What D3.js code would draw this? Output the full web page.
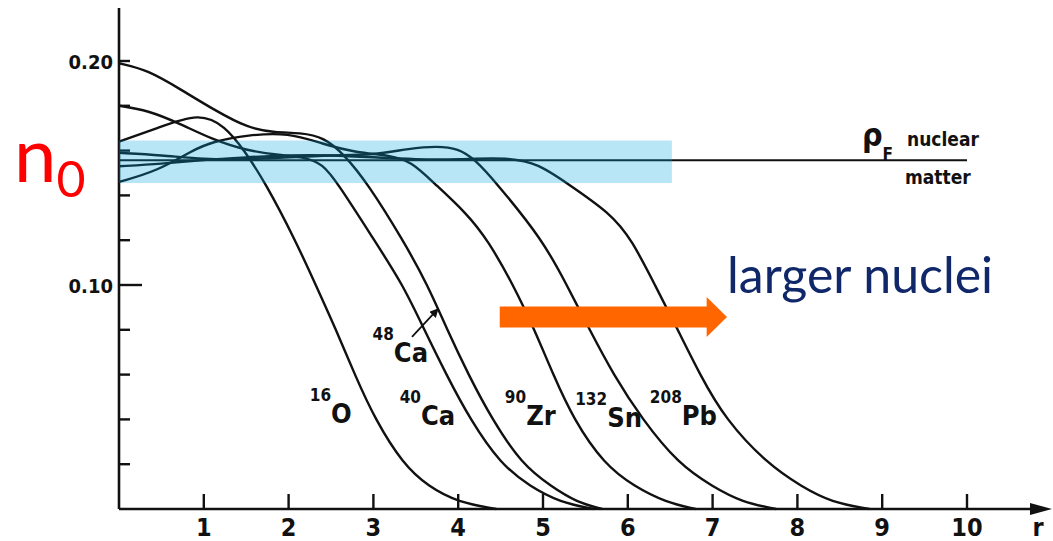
<!DOCTYPE html>
<html>
<head>
<meta charset="utf-8">
<script src="https://cdn.jsdelivr.net/npm/d3@7"></script>
<style>
body { margin: 0; background: #fff; }
svg { display: block; }
.scan { font-family: "DejaVu Sans Condensed", "DejaVu Sans", sans-serif; font-weight: bold; fill: #111; }
.slide { font-family: Lato, "Open Sans", sans-serif; }
</style>
</head>
<body>
<svg width="1053" height="541"></svg>
<script>
// tick values
var rTicks = [1, 2, 3, 4, 5, 6, 7, 8, 9, 10];
var rhoTicks = [0.02, 0.04, 0.06, 0.08, 0.10, 0.12, 0.14, 0.16, 0.18, 0.20];
var rhoLabels = [0.10, 0.20];

// nuclear matter density and highlighted band
var nuclearMatter = 0.1557;
var bandRho = [0.1455, 0.1645];
var bandR = [0, 6.52];

// density profiles rho(r)
var o16 = [[0,0.164],[0.45,0.170],[0.95,0.177],[1.25,0.171],[1.48,0.160],[1.72,0.146],[2.08,0.12],[2.32,0.10],[2.56,0.08],[2.78,0.06],[3.02,0.04],[3.35,0.02],[3.65,0.01],[4.0,0.003],[4.45,0]];
var ca40 = [[0,0.180],[0.34,0.178],[0.72,0.172],[1.1,0.165],[1.5,0.160],[1.9,0.158],[2.2,0.157],[2.4,0.154],[2.57,0.146],[3.01,0.12],[3.35,0.10],[3.60,0.08],[3.86,0.06],[4.14,0.04],[4.5,0.02],[4.85,0.01],[5.2,0.003],[5.6,0]];
var ca48 = [[0,0.199],[0.34,0.196],[0.74,0.187],[1.13,0.178],[1.52,0.170],[1.85,0.168],[2.13,0.168],[2.42,0.166],[2.66,0.158],[2.92,0.146],[3.35,0.12],[3.64,0.10],[3.87,0.08],[4.12,0.06],[4.40,0.04],[4.75,0.02],[5.1,0.01],[5.4,0.003],[5.7,0]];
var zr90 = [[0,0.146],[0.46,0.151],[0.86,0.160],[1.1,0.164],[1.52,0.167],[2.0,0.168],[2.4,0.163],[2.8,0.159],[3.2,0.158],[3.45,0.155],[3.7,0.146],[4.1,0.132],[4.35,0.12],[4.65,0.10],[4.90,0.08],[5.12,0.06],[5.36,0.04],[5.72,0.02],[6.08,0.01],[6.45,0.003],[6.8,0]];
var sn132 = [[0,0.159],[0.5,0.158],[1.0,0.156],[1.5,0.156],[2.0,0.157],[2.5,0.158],[3.0,0.158],[3.43,0.161],[3.75,0.162],[4.0,0.161],[4.2,0.156],[4.44,0.146],[5.0,0.12],[5.28,0.10],[5.55,0.08],[5.83,0.06],[6.17,0.04],[6.6,0.02],[7.0,0.01],[7.35,0.003],[7.75,0]];
var pb208 = [[0,0.153],[0.5,0.154],[1.0,0.156],[1.5,0.157],[2.0,0.158],[2.5,0.158],[3.0,0.157],[3.5,0.156],[4.0,0.156],[4.6,0.157],[4.95,0.154],[5.26,0.146],[5.8,0.132],[6.05,0.12],[6.32,0.10],[6.59,0.08],[6.85,0.06],[7.15,0.04],[7.65,0.02],[8.05,0.01],[8.4,0.003],[8.85,0]];

var nuclei = [
    {mass: "16", sym: "O", pts: o16},
    {mass: "40", sym: "Ca", pts: ca40},
    {mass: "48", sym: "Ca", pts: ca48},
    {mass: "90", sym: "Zr", pts: zr90},
    {mass: "132", sym: "Sn", pts: sn132},
    {mass: "208", sym: "Pb", pts: pb208}
];

// where the labels sit (r, rho of the symbol baseline start)
var labelAt = [[2.25, 0.0384], [3.31, 0.0375], [2.99, 0.0656], [4.55, 0.0375], [5.38, 0.0366], [6.26, 0.0375]];

var svg = d3.select("svg"),
    x = d3.scaleLinear().domain([0, 10]).range([119, 967]),
    y = d3.scaleLinear().domain([0, 0.2]).range([509, 61]);

var line = d3.line()
    .x(function (d) { return x(d[0]); })
    .y(function (d) { return y(d[1]); })
    .curve(d3.curveBasis);

// curves
svg.append("g").selectAll("path")
    .data(nuclei)
    .enter().append("path")
    .attr("d", function (d) { return line(d.pts); })
    .attr("fill", "none")
    .attr("stroke", "#111")
    .attr("stroke-width", 2.4);

// nuclear matter line
svg.append("line")
    .attr("x1", x(0)).attr("x2", x(10))
    .attr("y1", y(nuclearMatter)).attr("y2", y(nuclearMatter))
    .attr("stroke", "#111").attr("stroke-width", 2.2);

// axes
svg.append("line")
    .attr("x1", x(0)).attr("x2", x(0))
    .attr("y1", 8).attr("y2", y(0))
    .attr("stroke", "#111").attr("stroke-width", 2.6);
svg.append("line")
    .attr("x1", x(0)).attr("x2", 1032)
    .attr("y1", y(0)).attr("y2", y(0))
    .attr("stroke", "#111").attr("stroke-width", 2.6);
svg.append("path")
    .attr("d", "M1052," + y(0) + "L1030," + (y(0) - 6) + "L1030," + (y(0) + 6) + "Z")
    .attr("fill", "#111");

svg.append("g").selectAll("line")
    .data(rTicks)
    .enter().append("line")
    .attr("x1", function (d) { return x(d); })
    .attr("x2", function (d) { return x(d); })
    .attr("y1", y(0)).attr("y2", y(0) - 15)
    .attr("stroke", "#111").attr("stroke-width", 2.4);

svg.append("g").selectAll("text")
    .data(rTicks)
    .enter().append("text")
    .attr("class", "scan")
    .attr("x", function (d) { return x(d); })
    .attr("y", 536)
    .attr("text-anchor", "middle")
    .attr("font-size", 25)
    .text(function (d) { return d; });

svg.append("text")
    .attr("class", "scan")
    .attr("x", 1038).attr("y", 536)
    .attr("text-anchor", "middle")
    .attr("font-size", 25)
    .text("r");

svg.append("g").selectAll("line")
    .data(rhoTicks)
    .enter().append("line")
    .attr("x1", x(0))
    .attr("x2", function (d) { return x(0) + (Math.abs(d - 0.1) < 1e-6 ? 23 : 11); })
    .attr("y1", function (d) { return y(d); })
    .attr("y2", function (d) { return y(d); })
    .attr("stroke", "#111").attr("stroke-width", 2.4);

svg.append("g").selectAll("text")
    .data(rhoLabels)
    .enter().append("text")
    .attr("class", "scan")
    .attr("x", x(0) - 6)
    .attr("y", function (d) { return y(d) + 8; })
    .attr("text-anchor", "end")
    .attr("font-size", 20)
    .text(d3.format(".2f"));

// isotope labels
var lab = svg.append("g").selectAll("text")
    .data(nuclei)
    .enter().append("text")
    .attr("class", "scan")
    .attr("x", function (d, i) { return x(labelAt[i][0]); })
    .attr("y", function (d, i) { return y(labelAt[i][1]); });
lab.append("tspan")
    .attr("font-size", 17)
    .attr("dy", -22)
    .text(function (d) { return d.mass; });
lab.append("tspan")
    .attr("font-size", 27)
    .attr("dy", 22)
    .text(function (d) { return d.sym; });

// 48Ca pointer
svg.append("defs").append("marker")
    .attr("id", "tip")
    .attr("viewBox", "0 -5 10 10")
    .attr("refX", 9).attr("refY", 0)
    .attr("markerWidth", 5).attr("markerHeight", 5)
    .attr("orient", "auto")
    .append("path").attr("d", "M0,-5L10,0L0,5Z").attr("fill", "#111");
svg.append("line")
    .attr("x1", x(3.455)).attr("y1", y(0.0768))
    .attr("x2", x(3.762)).attr("y2", y(0.0893))
    .attr("stroke", "#111").attr("stroke-width", 1.8)
    .attr("marker-end", "url(#tip)");

// rho_F nuclear matter
var rf = svg.append("text").attr("class", "scan").attr("x", 862).attr("y", y(nuclearMatter) - 14);
rf.append("tspan").attr("font-size", 32).text("\u03c1");
rf.append("tspan").attr("font-size", 17).attr("dy", 14).text("F");
svg.append("text").attr("class", "scan")
    .attr("x", 907).attr("y", y(nuclearMatter) - 14)
    .attr("font-size", 19).text("nuclear");
svg.append("text").attr("class", "scan")
    .attr("x", 905).attr("y", y(nuclearMatter) + 24)
    .attr("font-size", 19).text("matter");

// blue band over the curves
svg.append("rect")
    .attr("x", x(bandR[0])).attr("width", x(bandR[1]) - x(bandR[0]))
    .attr("y", y(bandRho[1])).attr("height", y(bandRho[0]) - y(bandRho[1]))
    .attr("fill", "rgb(0,164,221)").attr("fill-opacity", 0.28);

// n0 label
var n0 = svg.append("text").attr("class", "slide")
    .attr("x", 14).attr("y", y(nuclearMatter) + 22)
    .attr("fill", "#ff0000");
n0.append("tspan").attr("font-size", 76).text("n");
n0.append("tspan").attr("font-size", 50).attr("dy", 15).text("0");

// larger nuclei arrow
var ay = y(0.0857);
svg.append("path")
    .attr("d", "M" + x(4.49) + "," + (ay - 10.5) + "H" + x(6.93) + "V" + (ay - 20) +
        "L" + x(7.17) + "," + ay + "L" + x(6.93) + "," + (ay + 20) + "V" + (ay + 10.5) + "H" + x(4.49) + "Z")
    .attr("fill", "#ff6600");
svg.append("text").attr("class", "slide")
    .attr("x", x(7.17)).attr("y", y(0.0964))
    .attr("font-size", 50)
    .attr("fill", "#10286a")
    .text("larger nuclei");
</script>
</body>
</html>
